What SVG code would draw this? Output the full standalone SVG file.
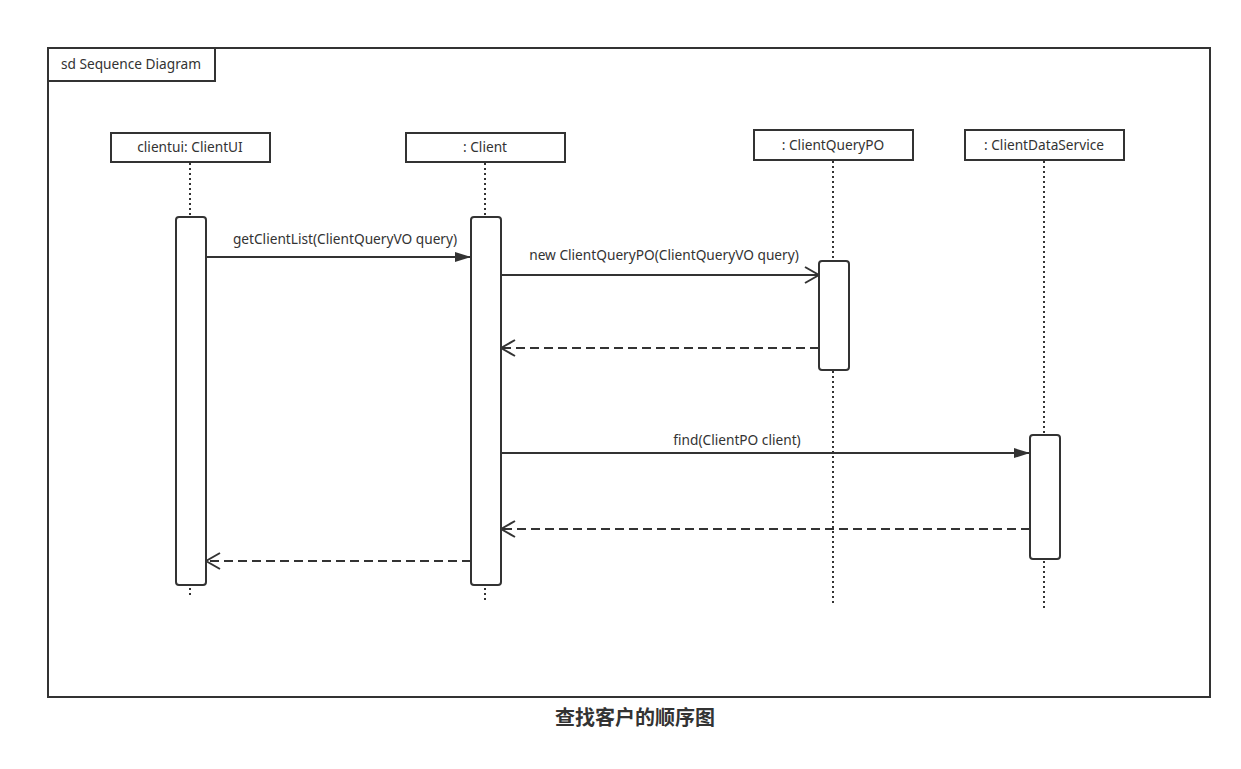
<svg xmlns="http://www.w3.org/2000/svg" width="1241" height="769" viewBox="0 0 1241 769">
<style>
.box{fill:#fff;stroke:#333;stroke-width:2}
.act{fill:#fff;stroke:#333;stroke-width:2}
.life{stroke:#333;stroke-width:2;stroke-dasharray:2 3;fill:none}
.msg{stroke:#333;stroke-width:2;fill:none}
.ret{stroke:#333;stroke-width:2;fill:none;stroke-dasharray:9 5}
.t{font-family:"Noto Sans","Liberation Sans",Arial,sans-serif;font-size:13.7px;fill:#333;text-anchor:middle}
.title{font-family:"Noto Sans CJK SC","Noto Sans",sans-serif;font-size:20px;font-weight:bold;fill:#333;text-anchor:middle}
</style>
<defs>
<marker id="filled" markerWidth="16" markerHeight="10" refX="16" refY="5" orient="auto" markerUnits="userSpaceOnUse">
<path d="M0,0 L16,5 L0,10 Z" fill="#333"/>
</marker>
<marker id="open" markerWidth="16" markerHeight="18" refX="15" refY="9" orient="auto" markerUnits="userSpaceOnUse">
<path d="M1,1 L15,9 L1,17" fill="none" stroke="#333" stroke-width="2"/>
</marker>
</defs>
<rect width="1241" height="769" fill="#fff"/>
<g id="frame">
<rect x="48" y="48" width="1162" height="649" fill="none" stroke="#333" stroke-width="2"/>
<rect x="48" y="48" width="167" height="33" fill="#fff" stroke="#333" stroke-width="2"/>
<text x="131" y="69" class="t">sd Sequence Diagram</text>
</g>
<g id="lifelines">
<line x1="190" y1="163" x2="190" y2="598" class="life"/>
<line x1="485" y1="163" x2="485" y2="600" class="life"/>
<line x1="833" y1="161" x2="833" y2="603" class="life"/>
<line x1="1044" y1="161" x2="1044" y2="608" class="life"/>
</g>
<g id="clientui">
<rect x="111" y="133" width="159" height="29" class="box"/>
<text x="190" y="152" class="t">clientui: ClientUI</text>
<rect x="176" y="217" width="30" height="368" rx="3" class="act"/>
</g>
<g id="client">
<rect x="406" y="133" width="159" height="29" class="box"/>
<text x="485" y="152" class="t">: Client</text>
<rect x="471" y="217" width="30" height="368" rx="3" class="act"/>
</g>
<g id="clientquerypo">
<rect x="754" y="130" width="159" height="30" class="box"/>
<text x="833" y="150" class="t">: ClientQueryPO</text>
<rect x="819" y="261" width="30" height="109" rx="3" class="act"/>
</g>
<g id="clientdataservice">
<rect x="965" y="130" width="159" height="30" class="box"/>
<text x="1044" y="150" class="t">: ClientDataService</text>
<rect x="1030" y="435" width="30" height="124" rx="3" class="act"/>
</g>
<g id="connectors">
<line x1="206" y1="257" x2="471" y2="257" class="msg" marker-end="url(#filled)"/>
<text x="345" y="244" class="t">getClientList(ClientQueryVO query)</text>
<line x1="501" y1="275" x2="819" y2="275" class="msg" marker-end="url(#open)"/>
<text x="664" y="260" class="t">new ClientQueryPO(ClientQueryVO query)</text>
<line x1="819" y1="348" x2="501" y2="348" class="ret" marker-end="url(#open)"/>
<line x1="501" y1="453" x2="1030" y2="453" class="msg" marker-end="url(#filled)"/>
<text x="737" y="445" class="t">find(ClientPO client)</text>
<line x1="1030" y1="529" x2="501" y2="529" class="ret" marker-end="url(#open)"/>
<line x1="471" y1="561" x2="206" y2="561" class="ret" marker-end="url(#open)"/>
</g>
<text x="635" y="725" class="title">查找客户的顺序图</text>
</svg>
